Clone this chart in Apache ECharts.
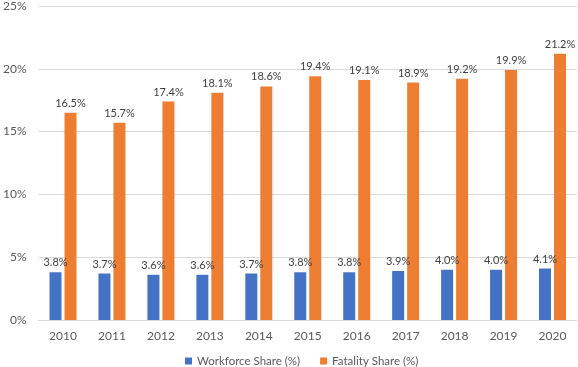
<!DOCTYPE html>
<html><head><meta charset="utf-8">
<script src="https://cdn.jsdelivr.net/npm/echarts@6/dist/echarts.min.js"></script>
<style>html,body{margin:0;padding:0;background:#fff}#c{width:578px;height:367px}</style>
</head><body><div id="c"></div>
<script>
const years = ['2010','2011','2012','2013','2014','2015','2016','2017','2018','2019','2020'];
const workforce = [3.8,3.7,3.6,3.6,3.7,3.8,3.8,3.9,4.0,4.0,4.1];
const fatality = [16.5,15.7,17.4,18.1,18.6,19.4,19.1,18.9,19.2,19.9,21.2];
const chart = echarts.init(document.getElementById('c'));
const font = 'Lato';
const lbl = {show:true, position:'top', distance:4, fontSize:11, color:'#404040', fontFamily:font, formatter:p=>p.value.toFixed(1)+'%'};
chart.setOption({
  animation:false,
  textStyle:{fontFamily:font},
  grid:{left:30,right:1,top:4,bottom:47},
  legend:{top:355,left:180,padding:[0,5],itemWidth:7,itemHeight:7,itemGap:20,icon:'rect',textStyle:{fontSize:11.5,color:'#595959',fontFamily:font},data:['Workforce Share (%)','Fatality Share (%)']},
  xAxis:{type:'category',data:years,axisTick:{show:false},axisLine:{lineStyle:{color:'#d9d9d9'}},axisLabel:{fontSize:12,color:'#595959',margin:10,fontFamily:font}},
  yAxis:{type:'value',min:0,max:25,interval:5,axisLabel:{formatter:'{value}%',fontSize:12,color:'#595959',margin:12,fontFamily:font},splitLine:{lineStyle:{color:'#d9d9d9'}}},
  series:[
    {name:'Workforce Share (%)',type:'bar',data:workforce,barWidth:12,barGap:'25%',itemStyle:{color:'#4472C4'},label:lbl},
    {name:'Fatality Share (%)',type:'bar',data:fatality,barWidth:12,itemStyle:{color:'#ED7D31'},label:lbl}
  ]
});
</script></body></html>
